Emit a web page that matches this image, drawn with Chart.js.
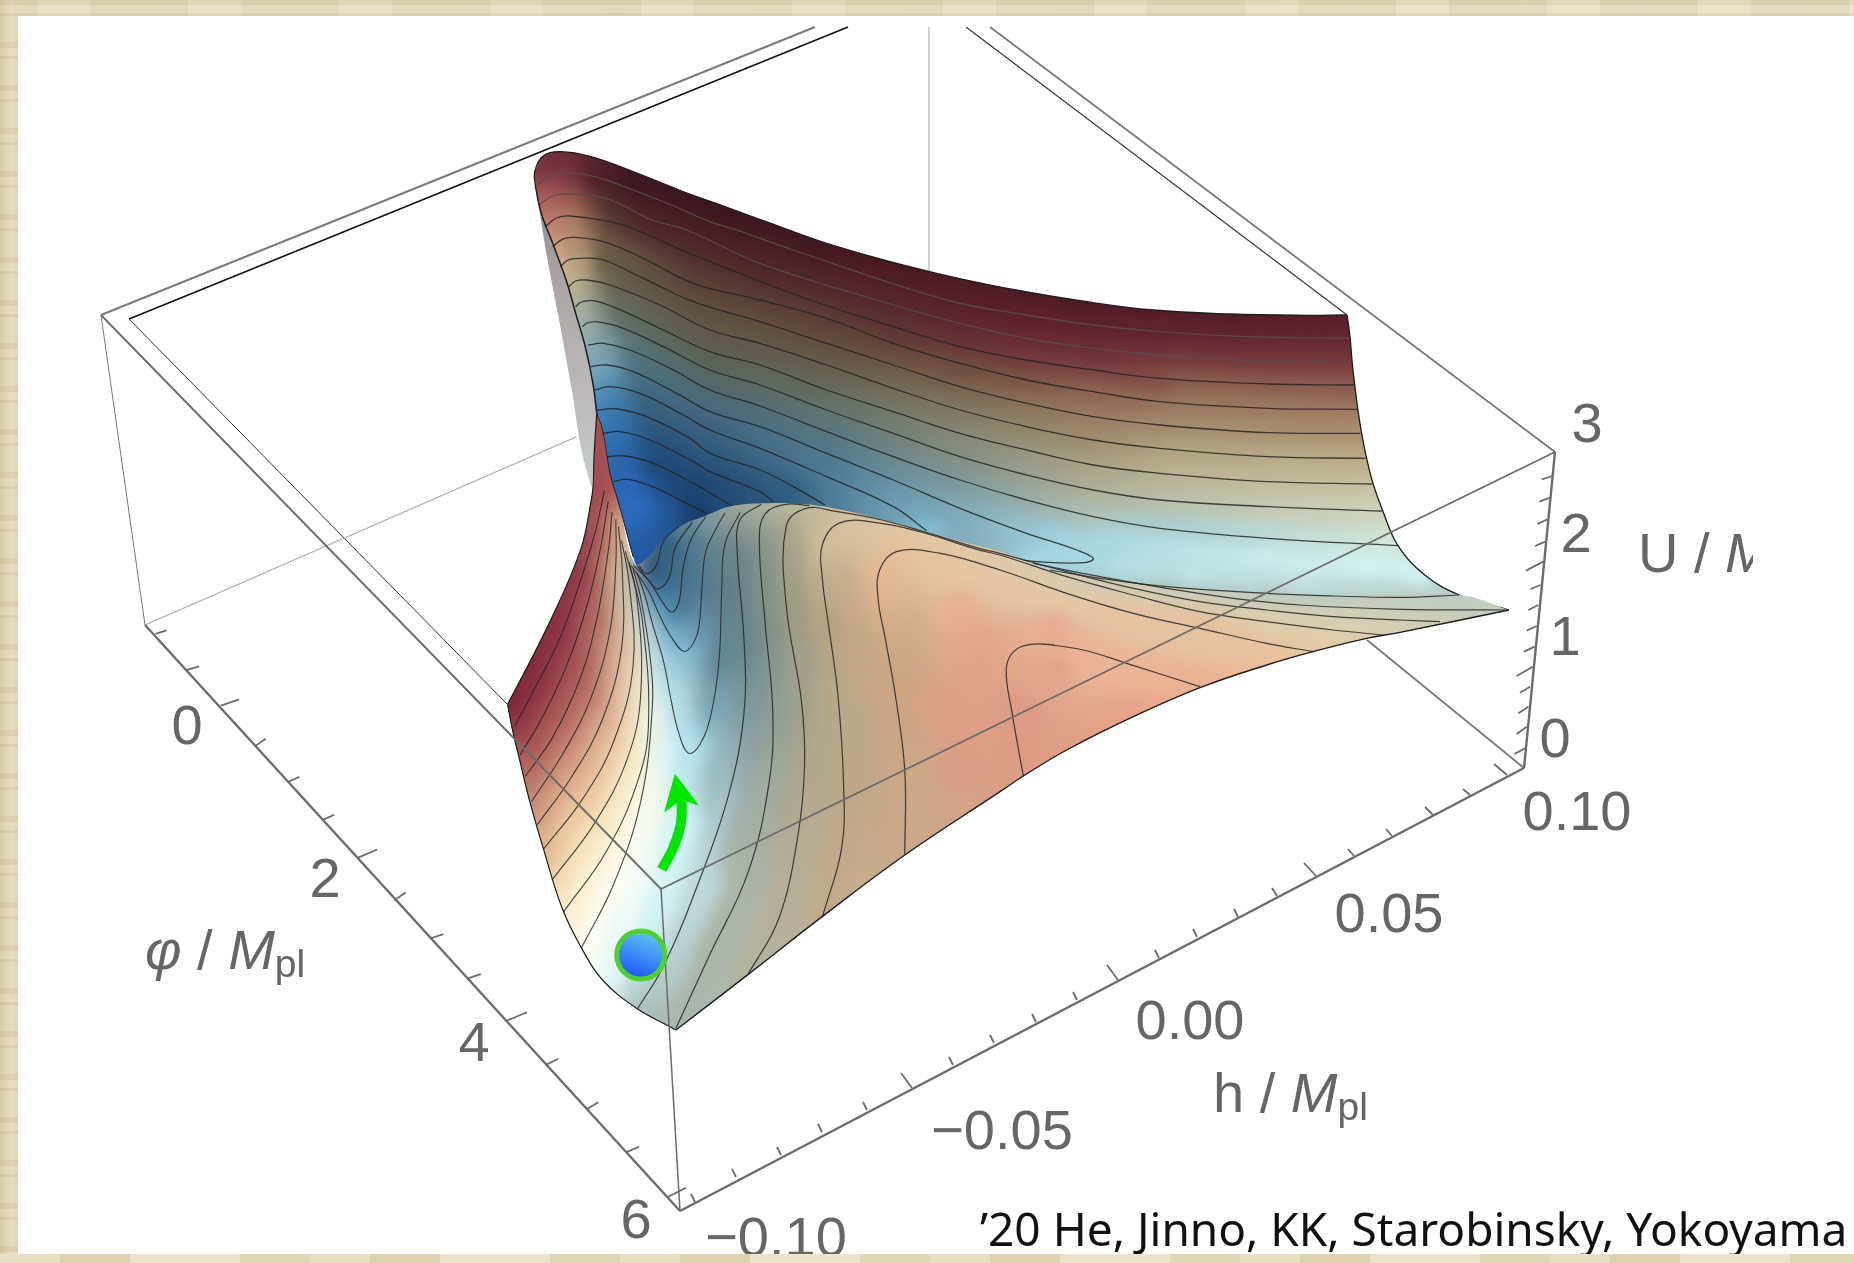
<!DOCTYPE html>
<html><head><meta charset="utf-8">
<style>
html,body{margin:0;padding:0;width:1854px;height:1263px;overflow:hidden;background:#e6dcc0}
#parch{position:absolute;inset:0;background:
 repeating-linear-gradient(0deg,rgba(170,140,80,.10) 0 3px,rgba(255,250,230,.12) 3px 11px,rgba(160,130,70,.08) 11px 17px,rgba(255,255,240,.08) 17px 43px),
 repeating-linear-gradient(90deg,rgba(170,140,80,.07) 0 37px,rgba(255,250,230,.10) 37px 90px,rgba(160,130,70,.05) 90px 151px),
 linear-gradient(90deg,#d9cba3 0,#e9dfc6 10px,#e4d9bc 18px,#e6dcc0 100%)}
#panel{position:absolute;left:18px;top:16px;width:1836px;height:1238px;background:#fff}
#c{position:absolute;left:0;top:0}
#strip{position:absolute;left:0;top:1254px;width:1854px;height:9px;background:
 repeating-linear-gradient(90deg,#e8dec2 0 60px,#dfd2b0 60px 130px,#ece3ca 130px 240px,#e2d6b8 240px 310px)}
</style></head><body>
<div id="parch"></div><div id="panel"></div>
<canvas id="c" width="1854" height="1263"></canvas>
<div id="strip"></div>
<script src="https://cdn.jsdelivr.net/npm/chart.js@4"></script>
<script>
// Readings were taken from enlarged crops of the picture; crop() turns a crop's units into chart units.
const crop=(x0,y0,sx,sy)=>pts=>pts.map(p=>[x0+p[0]/sx,y0+p[1]/sy,...p.slice(2)]);
const zA=crop(480,130,2.613,3), zB=crop(1000,280,2.613,3), zC=crop(480,480,2.613,2.8),
      zD=crop(1000,520,3,3), zE=crop(80,600,2.45,2.365), zG=crop(1400,400,3,3),
      zH=crop(760,300,3,3), zI=crop(560,230,3,3);

/* ---------- axis tick labels ---------- */
const phiTickLabels=['0','2','4','6'];
const phiTickAt=[[187,727],[325,880],[474,1044],[636,1221]];
const hTickLabels=['\u22120.10','\u22120.05','0.00','0.05','0.10'];
const hTickAt=[[776,1239],[1002,1132],[1190,1022],[1389,915],[1577,813]];
const uTickLabels=['0','1','2','3'];
const uTickAt=[[1555,740],[1565,638],[1576,535],[1587,425]];

/* ---------- box frame ---------- */
const frameOuterTop=[[101,315],[815,27]];
const frameInnerTop=[[129,319],[848,27]];
const frameInnerLeft=[[129,319],[507,704]];
const frameInnerRight=[[966,27],[1347,315]];
const frameOuterRight=[[990,27],[1555,452]];
const frameBackVertical=[[929,27],[929,271]];
const frameLeftVertical=[[101,315],[145,625]];
const floorBackLeft=[[145,625],[576,437]];
const floorBackRight=[[1524,768],[1367,640]];
const frontTopLeft=[[101,315],[661,889]];
const frontTopRight=[[661,889],[1555,452]];
const frontVertical=[[661,889],[680,1211]];
const phiAxis=[[145,625],[680,1211]];
const hAxis=[[680,1211],[1524,768]];
const uAxis=[[1524,768],[1555,452]];

/* ---------- tick marks: base and tip ---------- */
const phiTicks=zE([[185,80],[262,165],[345,250],[430,345],[510,430],[595,520],[680,610],[770,710],[860,800],[950,895],[1045,995],[1140,1100],[1240,1205],[1340,1305],[1440,1412]]);
const phiTickTips=zE([[212,72],[292,157],[390,235],[455,328],[538,418],[623,508],[728,590],[798,692],[890,790],[982,885],[1095,975],[1172,1085],[1270,1188],[1370,1293],[1485,1390]]);
const hTicks=[[695,1202],[736,1177],[781,1155],[822,1132],[867,1110],[912,1088],[953,1065],[994,1043],[1036,1022],[1077,1000],[1118,980],[1159,958],[1197,937],[1238,917],[1277,896],[1316,876],[1354,856],[1392,836],[1433,815],[1470,795],[1507,775]];
const hTickTips=[[691,1194],[732,1169],[777,1147],[818,1124],[863,1102],[901,1073],[949,1057],[990,1035],[1032,1014],[1073,992],[1107,965],[1155,950],[1193,929],[1234,909],[1272,888],[1304,863],[1348,849],[1386,829],[1425,807],[1463,789],[1494,764]];
const uTicks=zG([[375,1045],[380,980],[385,920],[390,860],[398,800],[404,740],[410,678],[415,615],[422,555],[430,485],[436,425],[443,358],[450,293],[458,228]]);
const uTickTips=zG([[343,1062],[350,1002],[355,940],[360,878],[350,828],[372,755],[380,692],[385,630],[392,567],[378,512],[405,438],[412,372],[418,305],[425,238]]);

/* ---------- surface edges ---------- */
const edgeTop=[...zA([[145,170],[143,125],[165,78],[210,65],[290,80],[400,125],[520,180],[640,230],[760,280],[880,330],[1000,372],[1130,412],[1250,445],[1400,480]]),...zB([[209,62],[400,90],[600,102],[800,106],[907,105]])];
const edgeRight=zB([[907,105],[915,175],[920,245],[927,315],[935,388],[945,460],[958,535],[975,612],[1000,692],[1040,797],[1110,885],[1200,945],[1330,990]]);
const edgeInner=zA([[145,170],[160,250],[190,340],[225,450],[250,550],[275,650],[295,760],[305,850]]);
const edgeThroat=zA([[305,850],[320,900],[340,1030],[365,1130],[400,1280]]);
const edgeStrip=[...zA([[305,850],[298,980],[295,1075]]),...zC([[290,60],[270,170],[240,260],[190,380],[130,510],[72,628]])];
const edgeFront=zC([[72,628],[85,700],[105,790],[130,900],[165,1030],[215,1200],[265,1310],[320,1400],[410,1480],[495,1530],[512,1540]]);
const edgeBottom=[...zC([[512,1540],[700,1385],[895,1222],[1110,1050]]),...zD([[0,815],[70,768],[200,690],[400,590],[600,503],[800,435],[950,392],[1100,355],[1200,337]]),...zB([[1330,990]])];
const edgeRidge=[...zB([[1200,945]]),...zD([[1000,228],[800,220],[500,198],[300,172],[150,148],[0,95]]),...zC([[1250,170],[1100,125],[950,85],[850,68],[740,65],[650,75],[590,100],[530,125],[480,165],[440,215],[405,235]])];

/* ---------- contour lines ---------- */
const backContours=[
 [...zA([[150,165],[190,132],[225,128],[300,140],[400,180],[500,225],[600,275]]),...zI([[530,0],[700,60]]),...zH([[560,0],[800,45],[1000,75],[1200,95]]),...zB([[650,170],[912,175]])],
 [...zA([[155,225],[190,198],[230,192],[330,205],[450,270]]),...zI([[380,0],[600,100]]),...zH([[350,0],[600,70],[800,115],[1000,145],[1200,165]]),...zB([[700,245],[918,245]])],
 [...zA([[170,290],[200,264],[235,258],[340,275]]),...zI([[230,0],[400,75]]),...zH([[150,0],[400,80],[600,140],[800,180],[1000,210],[1200,235]]),...zB([[700,312],[925,315]])],
 [...zA([[190,350],[215,328],[245,322]]),...zI([[130,35],[250,85],[400,160]]),...zH([[0,0],[200,55],[400,130],[600,190],[800,240],[1000,275],[1200,305]]),...zB([[700,385],[933,388]])],
 [...zA([[210,410],[230,390],[260,385]]),...zI([[130,90],[250,145],[400,215]]),...zH([[0,65],[200,130],[400,195],[600,260],[800,310],[1000,350],[1200,375]]),...zB([[700,458],[942,460]])],
 [...zA([[232,470],[250,453]]),...zI([[80,150],[150,165],[300,225],[450,300]]),...zH([[0,130],[200,195],[400,265],[600,330],[800,380],[1000,420],[1200,445]]),...zB([[700,530],[955,535]])],
 [...zA([[250,530],[265,516]]),...zI([[100,212],[170,235],[300,295],[450,365]]),...zH([[0,195],[200,270],[400,335],[600,400],[800,450],[1000,495],[1200,520]]),...zB([[700,605],[972,612]])],
 [...zA([[268,590],[280,579]]),...zI([[110,275],[190,295],[320,355],[450,420]]),...zH([[0,255],[200,330],[400,400],[600,470],[800,525],[1000,570],[1200,600]]),...zB([[700,680],[998,693]])],
 [...zA([[283,645]]),...zI([[130,340],[210,360],[340,420],[450,480]]),...zH([[0,318],[200,395],[400,470],[600,540],[800,600],[1000,650],[1200,685]]),...zB([[700,775],[1040,797]])],
 [...zA([[290,710]]),...zI([[140,405],[220,425],[350,490],[450,545]]),...zH([[0,380],[200,460],[400,540],[600,625],[800,700],[950,750],[1000,775]]),...zB([[220,848],[100,845],[0,832]])],
 [...zA([[300,780]]),...zI([[150,470],[240,490],[370,555],[450,600]]),...zH([[0,445],[200,530],[400,620],[500,692]])],
 [...zA([[305,840]]),...zI([[170,537],[260,560],[390,625],[450,670]]),...zH([[0,510],[100,560],[195,615]])],
 [...zA([[320,910]]),...zI([[180,605],[270,630],[400,695],[450,725]]),...zH([[0,575],[40,605]])],
 zI([[140,680],[195,678],[280,700],[400,760],[520,830]]),
 zI([[160,755],[205,748],[290,775],[370,815],[440,850]])
];
const fanContours=[
 zC([[90,690],[150,570],[210,440],[260,290],[300,150],[325,30]]),
 zC([[105,770],[170,650],[230,510],[280,350],[315,190],[335,60]]),
 zC([[118,830],[190,720],[260,560],[305,390],[335,200],[345,90]]),
 zC([[135,900],[220,760],[290,610],[340,420],[355,230],[355,110]]),
 zC([[150,965],[240,830],[320,670],[370,470],[372,260],[362,130]]),
 zC([[165,1035],[270,890],[350,730],[400,520],[390,290],[370,170]]),
 zC([[188,1120],[300,960],[385,780],[420,600],[410,330],[380,200]]),
 zC([[218,1210],[330,1040],[410,850],[440,690],[425,400],[390,230]]),
 zC([[265,1310],[350,1130],[420,900],[450,640],[445,500],[420,330],[400,250]])
];
const valleyContours=[
 zC([[410,260],[430,320],[450,400],[480,510],[500,620],[520,710],[545,765],[575,740],[605,650],[625,500],[632,300],[640,180],[680,90]]),
 zC([[395,240],[440,310],[470,380],[500,440],[535,480],[565,440],[575,380],[580,300],[590,200],[620,130],[640,92]]),
 zC([[400,240],[440,280],[470,330],[500,370],[520,340],[530,250],[550,170],[590,102]]),
 zC([[410,240],[440,280],[465,305],[495,270],[510,190],[555,118]]),
 zC([[415,240],[435,262],[460,240],[480,170],[520,130]])
];
const hillContours=[
 zC([[412,1480],[480,1360],[570,1130],[650,880],[690,650],[690,450],[672,200],[680,110],[735,68]]),
 zC([[512,1535],[600,1330],[700,1100],[755,850],[765,650],[745,400],[730,170],[745,95],[800,68],[860,72]]),
 [...zC([[700,1385],[780,1230],[830,1000],[848,800],[840,620],[800,350],[800,130],[850,80],[930,88],[1050,112],[1170,148],[1300,190]]),...zD([[0,100],[200,155],[400,205],[600,245],[800,270],[1000,290],[1200,300]]),...zB([[1150,1025]])],
 [...zC([[895,1222],[945,1030],[950,850],[935,600],[910,400],[895,280],[895,180],[940,120],[1040,120],[1150,145],[1300,195]]),...zD([[0,105],[200,170],[400,225],[600,275],[800,305],[1000,330],[1150,345]])],
 [...zC([[1110,1050],[1110,815],[1085,600],[1060,450],[1040,330],[1045,250],[1090,200],[1200,205]]),...zD([[0,150],[200,220],[400,280],[600,325],[800,370],[940,395]])],
 [...zC([[1420,830],[1390,650],[1375,530],[1395,480],[1440,460],[1500,462]]),...zD([[130,372],[250,390],[380,430],[600,500]])],
 [...zD([[150,150],[300,175],[500,200],[800,220],[1000,228],[1200,232]]),...zB([[1200,945]])],
 [...zD([[100,130],[300,170],[500,205],[700,235],[900,255],[1200,268]]),...zB([[1330,990]])]
];

/* ---------- surface colour read along lines running over each sheet ---------- */
const backTracks=[
 [...zA([[145,120,'#7a3040'],[210,68,'#6e2a38'],[400,128,'#3a1420'],[640,233,'#3a1520'],[880,333,'#3e1620'],[1130,415,'#46181f']]),...zB([[209,65,'#4e1a25'],[600,105,'#521a28'],[905,108,'#531c2a']])],
 [...zA([[150,165,'#a5545c'],[225,130,'#7a3340'],[300,142,'#481c26'],[400,180,'#3d1822'],[600,275,'#43191f']]),...zH([[800,45,'#5e1f2b'],[1200,95,'#5f2230']]),...zB([[650,170,'#642631'],[912,175,'#662632']])],
 [...zA([[155,225,'#bb6a66'],[230,192,'#9a5a50'],[330,205,'#4f2a28'],[450,270,'#4a2026']]),...zI([[600,100,'#4e2428']]),...zH([[600,70,'#5e2530'],[1000,145,'#6a2c34']]),...zB([[450,225,'#74343a'],[918,245,'#78383d']])],
 [...zA([[170,290,'#d08c78'],[235,258,'#b07c64'],[340,275,'#55382f']]),...zI([[400,75,'#52302c']]),...zH([[400,80,'#5c3030'],[800,180,'#73393a'],[1200,235,'#844a47']]),...zB([[450,290,'#8a5c4c'],[925,315,'#8c5a50']])],
 [...zA([[190,350,'#d8aa88'],[245,322,'#b89070']]),...zI([[130,35,'#6a5a46'],[400,160,'#5a4034']]),...zH([[200,55,'#5c3f33'],[600,190,'#6e4a3c'],[1000,275,'#8e6553']]),...zB([[450,365,'#9a785e'],[933,388,'#a07c60']])],
 [...zA([[210,410,'#d8bc92'],[260,385,'#b8a080']]),...zI([[130,90,'#665a46'],[400,215,'#5e4e3c']]),...zH([[200,130,'#624e3e'],[600,260,'#7a6350'],[1000,350,'#9a7d62']]),...zB([[450,435,'#a38d6c'],[942,460,'#ac9270']])],
 [...zA([[232,470,'#ccc09a'],[250,453,'#b8b090']]),...zI([[150,165,'#66624f'],[450,300,'#625646']]),...zH([[200,195,'#685e4c'],[600,330,'#827a64'],[1000,420,'#a28f6e']]),...zB([[450,505,'#b2a682'],[955,535,'#bcac86']])],
 [...zA([[250,530,'#b8c0a6'],[265,516,'#a0aa98']]),...zI([[170,235,'#5f6a5c'],[450,365,'#5e5f50']]),...zH([[200,270,'#646b5c'],[600,400,'#878a76'],[1000,495,'#aba488']]),...zB([[450,580,'#bcb494'],[972,612,'#c8c0a0']])],
 [...zA([[268,590,'#a6b8ac'],[280,579,'#96a8a6']]),...zI([[190,295,'#58706c'],[450,420,'#58675e']]),...zH([[200,330,'#5f7570'],[600,470,'#858f85'],[1000,570,'#b1b198']]),...zB([[450,650,'#bcc0a8'],[998,693,'#d0d4bc']])],
 [...zA([[283,645,'#90b0b4']]),...zI([[130,340,'#80a4ac'],[210,360,'#52727a'],[450,480,'#506870']]),...zH([[200,395,'#587680'],[600,540,'#7f9a9c'],[1000,650,'#aec3b8']]),...zB([[450,745,'#a8ccd0'],[1040,797,'#d4e8dc']])],
 [...zA([[290,710,'#7fb0c6']]),...zI([[140,405,'#70a2b8'],[220,425,'#466f80'],[450,545,'#446a80']]),...zH([[200,460,'#4f7a90'],[600,625,'#7facbc'],[900,720,'#a2d4e2'],[1000,775,'#a8dce8']]),...zB([[100,845,'#a8dce8']])],
 [...zA([[300,780,'#5798c4']]),...zI([[150,470,'#4c8cb8'],[240,490,'#3a647a'],[450,600,'#385f7e']]),...zH([[200,530,'#4c7c98'],[400,620,'#6e9fb5'],[500,690,'#84c2d8']])],
 [...zA([[305,840,'#3f80ba']]),...zI([[170,537,'#3a78b0'],[260,560,'#2f5a7c'],[450,670,'#2d587c']]),...zH([[100,560,'#2f5f84'],[195,615,'#4a7c98']])],
 [...zA([[320,910,'#3374b6']]),...zI([[180,605,'#3070b0'],[270,630,'#234c78'],[450,725,'#234c78']]),...zH([[40,605,'#2a5478']])],
 zI([[140,680,'#2d6cb0'],[195,678,'#2a68ac'],[280,700,'#1c4470'],[400,760,'#1c4470'],[520,830,'#1f4c78']]),
 zI([[160,755,'#2b68ba'],[205,748,'#2a68ba'],[290,775,'#1e4e88'],[370,815,'#183e6c'],[440,850,'#173f6d']]),
 zI([[170,830,'#2a6ac0'],[250,810,'#2b6ec6'],[330,830,'#24589c'],[400,850,'#173a66']]),
 zA([[400,1280,'#1f5ca8'],[430,1350,'#1c4a80']]),
 zB([[250,760,'#a2dae6'],[450,790,'#bce6ec'],[700,830,'#ccf0f0'],[950,850,'#d2f6f6'],[1090,880,'#d4f8f8']]),
 zB([[300,860,'#bce8ee'],[500,885,'#c2eaee'],[800,915,'#c6e8e8'],[1000,930,'#bcd8d4'],[1180,945,'#b8ccc6']]),
 zD([[150,140,'#a0c8d0'],[300,165,'#a6ccd2'],[500,190,'#a8c4c2'],[800,210,'#b0c4be'],[1200,225,'#b8cac4']])
];
const frontTracks=[
 [...zA([[305,850,'#a85050'],[295,1075,'#a04a54']]),...zC([[290,60,'#9a4450'],[270,170,'#8f3646'],[240,260,'#8a3040'],[190,380,'#842c3c'],[130,510,'#7e2838'],[72,628,'#7a2436']])],
 zC([[72,628,'#7a2436'],[85,700,'#96424a'],[105,790,'#b06a60'],[130,900,'#c08a74'],[165,1030,'#dfb08a'],[215,1200,'#f8ecc4'],[265,1310,'#fffdf0'],[320,1400,'#eefcfc'],[410,1480,'#a9c0be'],[495,1530,'#a9b5ac'],[512,1540,'#a9b5ac']]),
 /* fan of contours left of the valley */
 zC([[90,690,'#8a3040'],[150,570,'#8c3040'],[210,440,'#8e3242'],[260,290,'#943a4a'],[300,150,'#a04a54'],[325,30,'#a84e54']]),
 zC([[105,770,'#a04a50'],[170,650,'#a24c50'],[230,510,'#a04a52'],[280,350,'#a85658'],[315,190,'#b06058'],[335,60,'#b86a5c']]),
 zC([[118,830,'#b86a60'],[190,720,'#b46660'],[260,560,'#ac5a58'],[305,390,'#b06a60'],[335,200,'#c08a70'],[345,90,'#c89a78']]),
 zC([[135,900,'#cc8e78'],[220,760,'#c88c78'],[290,610,'#bf7d6c'],[340,420,'#c89a80'],[355,230,'#d8b890'],[355,110,'#d8b890']]),
 zC([[150,965,'#e0ac8c'],[240,830,'#deaa8a'],[320,670,'#d8a888'],[370,470,'#dcb898'],[372,260,'#e8d0a8'],[362,130,'#e8d0a8']]),
 zC([[165,1035,'#f0c8a0'],[270,890,'#f0c8a0'],[350,730,'#ecc8a0'],[400,520,'#eed4b0'],[390,290,'#f0e0b8'],[370,170,'#e8dcc0']]),
 zC([[188,1120,'#f8e4b8'],[300,960,'#f8e4b8'],[385,780,'#f4e4bc'],[420,600,'#f4e8c8'],[410,330,'#f4ecc8'],[380,200,'#d8d8c0']]),
 zC([[218,1210,'#fff4d8'],[330,1040,'#fff4d8'],[410,850,'#fbf2cf'],[440,690,'#f8f6dc'],[425,400,'#e8ecd8'],[390,230,'#a0b8c0']]),
 zC([[265,1310,'#ffffff'],[350,1130,'#fffef4'],[420,900,'#fdfbe8'],[450,640,'#e8f6f2'],[445,500,'#c8e8ec'],[420,330,'#6aa4c4'],[400,250,'#204a7c']]),
 /* valley */
 zC([[430,400,'#a8d4e0'],[470,600,'#c4ecf2'],[480,750,'#e0f8fa'],[430,900,'#f4fdfc'],[400,1100,'#f6fdfa'],[370,1300,'#e8fbfb'],[350,1400,'#d8f4f6']]),
 zC([[520,790,'#b6e8f4'],[530,950,'#cff6fa'],[470,1180,'#d4f4f6'],[430,1320,'#c8eef0'],[400,1430,'#b0ccc8']]),
 zC([[430,320,'#3a80b0'],[480,510,'#8cc8e0'],[520,710,'#b0e4f2'],[545,765,'#b8e8f4'],[575,740,'#a8dcea'],[605,650,'#78a8b8'],[625,500,'#5e8494'],[632,300,'#5f7d88'],[640,180,'#6a8488'],[680,90,'#9aa59c']]),
 zC([[440,310,'#3a80b0'],[500,440,'#70b0d0'],[535,480,'#84bcd4'],[565,440,'#6a9cb4'],[580,300,'#507a90'],[590,200,'#5e8092'],[640,92,'#8a9c98']]),
 zC([[440,280,'#28649a'],[470,330,'#4a90b8'],[500,370,'#4480a8'],[520,340,'#46748e'],[530,250,'#42708a'],[550,170,'#4e7a90'],[590,102,'#7e9aa0']]),
 zC([[440,280,'#245a88'],[465,305,'#245a88'],[495,270,'#346688'],[510,190,'#3e6a86'],[555,118,'#6a8a96']]),
 zC([[415,240,'#1c4070'],[435,262,'#1c4070'],[460,240,'#205078'],[480,170,'#2a5a80'],[520,130,'#5a8090']]),
 /* hill contours */
 zC([[412,1480,'#a9bfbd'],[480,1360,'#b4cccc'],[570,1130,'#bfdadc'],[650,880,'#a4c2c8'],[690,650,'#7c9aa4'],[690,450,'#66828a'],[672,200,'#6a8488'],[680,110,'#8e9c96'],[735,68,'#a8aea0']]),
 zC([[512,1535,'#a9b5ac'],[600,1330,'#aab4a8'],[700,1100,'#aab2a6'],[755,850,'#a0aca0'],[765,650,'#8a9c96'],[745,400,'#7d9088'],[730,170,'#84948a'],[745,95,'#a4aa9a'],[800,68,'#b8b8a0']]),
 [...zC([[700,1385,'#b2b29c'],[780,1230,'#b6b09a'],[830,1000,'#b6ae96'],[848,800,'#b0a68e'],[840,620,'#a4a28c'],[800,350,'#9e9c84'],[800,130,'#a8a488'],[850,80,'#bcb89c'],[930,88,'#c8bc9c'],[1170,148,'#dcc4a0']]),...zD([[200,155,'#ccccb4'],[400,205,'#d0ccae'],[800,270,'#d8ceb0'],[1200,300,'#d6ceb2']])],
 [...zC([[895,1222,'#c2ac8c'],[945,1030,'#c2a988'],[950,850,'#bea584'],[935,600,'#b8a888'],[910,400,'#b4a484'],[895,280,'#c0ad8a'],[895,180,'#d0bb96'],[940,120,'#dcc2a0'],[1040,120,'#e0c6a2'],[1150,145,'#e4caa6']]),...zD([[200,170,'#e0cba6'],[400,225,'#e0cca8'],[800,305,'#e0cfac'],[1150,345,'#dccfb0']])],
 [...zC([[1110,1050,'#c9aa88'],[1110,815,'#cda786'],[1085,600,'#cca484'],[1060,450,'#d0a884'],[1040,330,'#deb28e'],[1045,250,'#e4ba94'],[1090,200,'#e6be98'],[1200,205,'#eac4a0']]),...zD([[200,220,'#e8c8a4'],[600,325,'#e8c8a4'],[940,395,'#e4c8a4']])],
 [...zC([[1420,830,'#e09c84'],[1390,650,'#dc9a84'],[1375,530,'#e0a48a'],[1395,480,'#e4aa8c'],[1440,460,'#e8ae90']]),...zD([[250,390,'#ecb496'],[600,500,'#ecb494']])],
 [...zC([[1110,1050,'#c9aa88'],[1420,830,'#de9c84']]),...zD([[200,690,'#e09e86'],[400,590,'#e8a48a'],[600,503,'#ecb092'],[800,435,'#ecc09a'],[1100,355,'#e4cca4']]),...zB([[1330,990,'#c0cdc0']])],
 /* ridge */
 [...zB([[1200,945,'#bccdc4']]),...zD([[1000,232,'#bbccc4'],[800,224,'#b8cdc6'],[500,202,'#bcd0c8'],[300,176,'#c4ccbc'],[150,152,'#d2c8b0'],[0,100,'#dcc8a8']]),...zC([[1250,175,'#e2c8a6'],[1100,130,'#e4c6a0'],[950,90,'#d4c09c'],[850,72,'#c0b89c'],[740,70,'#b0b49e'],[650,80,'#9aa59c'],[590,105,'#7e9aa0'],[530,130,'#5a8090'],[480,170,'#2a5a80'],[440,220,'#1c4070']])],
 zD([[300,250,'#e8bc96'],[600,300,'#ecb694'],[850,395,'#ecbe98']]),
 zD([[1000,240,'#c2cebe'],[1200,250,'#c4cebe']]),
 zD([[1000,270,'#d2d0b4'],[1250,280,'#ccd0bc']]),
 /* filling the open spaces between those contours */
 zC([[1150,620,'#d8a283'],[1300,650,'#df9f86'],[1400,680,'#e39c85']]),
 zC([[1250,350,'#e8b092'],[1300,500,'#e0a286'],[1250,800,'#dc9c85']]),
 zC([[1500,400,'#e8a890'],[1500,520,'#e2a088']]),
 zC([[1000,600,'#c4a984'],[980,450,'#c4a684'],[950,300,'#c8ad8a']]),
 zC([[1000,900,'#c2a988'],[1000,1100,'#c6ac8c']]),
 zC([[900,600,'#b5a888'],[900,900,'#b5aa8e']]),
 zC([[800,600,'#97a08f'],[800,1050,'#b3ac92']]),
 zC([[720,600,'#7f9492'],[650,1050,'#a6b2a8']]),
 zC([[620,600,'#7aa0ae'],[600,900,'#a4c4c8']])
];
const sideTracks=[zA([[170,250,'#9a9292'],[210,500,'#aea8a8'],[260,800,'#bcbaba'],[285,1000,'#c4cac8']])];

/* ---------- sheet shapes ---------- */
const corner=p=>[p,p];
const backShape=[...edgeTop.slice(1,-1),...corner(edgeRight[0]),...edgeRight.slice(1),...corner(edgeRight[edgeRight.length-1]),...zD([[1000,300],[600,300]]),...zC([[700,250],[420,270]]),...corner(zC([[420,270]])[0]),...edgeThroat.slice().reverse(),...edgeInner.slice().reverse()];
const sideShape=[...zA([[145,170],[155,240],[175,380],[205,560],[240,780],[265,960],[292,1075]]),...corner(zA([[292,1075]])[0]),...zA([[300,940]]),...edgeInner.slice(2).reverse()];
const frontShape=[...edgeStrip.slice(0,-1),...corner(edgeStrip[edgeStrip.length-1]),...edgeFront.slice(1,-1),...corner(edgeBottom[0]),...edgeBottom.slice(1,-1),...corner(edgeBottom[edgeBottom.length-1]),...edgeRidge,...edgeThroat.slice(1,-1).reverse()];

/* ---------- marble and arrow ---------- */
const marble=zC([[420,1330]]);
const arrowShaft=zC([[475,1090],[505,1030],[525,960],[527,895]]);
const arrowHead=zC([[510,825],[570,910],[527,893],[483,928],[510,825]]);

const GREY='#6b6b6b', INK='#1c1c1c', CONTOUR='rgba(38,38,38,.85)', CONTOUR_LIGHT='rgba(88,78,78,.9)';
const xy=a=>a.map(p=>({x:p[0],y:p[1]}));
const segs=(a,b)=>a.flatMap((p,i)=>[{x:p[0],y:p[1]},{x:b[i][0],y:b[i][1]},{x:NaN,y:NaN}]);
const line=(label,pts,color,width,tension=0)=>({label,data:xy(pts),borderColor:color,borderWidth:width,tension,showLine:true,pointRadius:0,clip:false,spanGaps:false});
const sheet=(label,shape,tracks)=>({label,data:xy(shape),colourTracks:tracks,borderWidth:0,borderColor:'transparent',tension:.4,showLine:true,pointRadius:0,clip:false});

const sets=[
 line('frame outer top',frameOuterTop,'#7a7a7a',2),
 line('frame inner top',frameInnerTop,'#111',1.6),
 line('frame inner left',frameInnerLeft,'#333',1),
 line('frame inner right',frameInnerRight,'#333',1.1),
 line('frame outer right',frameOuterRight,'#777',1.7),
 line('frame back vertical',frameBackVertical,'#bbb',1.4),
 line('frame left vertical',frameLeftVertical,'#777',1),
 line('floor back left',floorBackLeft,'#aaa',1.2),
 line('floor back right',floorBackRight,'#777',1.7),
 sheet('side of surface',sideShape,sideTracks),
 sheet('back of surface',backShape,backTracks),
 ...backContours.map((c,i)=>line('contour back '+i,c,i<2?CONTOUR_LIGHT:CONTOUR,1.3,.4)),
 line('edge top',edgeTop,INK,1.3,.4),
 line('edge right',edgeRight,INK,1.3,.4),
 line('edge inner',edgeInner,INK,1.5,.4),
 sheet('front of surface',frontShape,frontTracks),
 ...fanContours.map((c,i)=>line('contour fan '+i,c,CONTOUR,1.1,.4)),
 ...valleyContours.map((c,i)=>line('contour valley '+i,c,CONTOUR,1.1,.4)),
 ...hillContours.map((c,i)=>line('contour hill '+i,c,CONTOUR,1.2,.4)),
 line('edge throat',edgeThroat,INK,1,.4),
 line('edge strip',edgeStrip,INK,1.2,.4),
 line('edge front',edgeFront,INK,1.2,.4),
 line('edge bottom',edgeBottom,INK,1.4,.4),
 line('front top left',frontTopLeft,GREY,1.8),
 line('front top right',frontTopRight,GREY,1.8),
 line('front vertical',frontVertical,GREY,1.5),
 line('phi axis',phiAxis,GREY,2.4),
 line('h axis',hAxis,GREY,2.4),
 line('U axis',uAxis,GREY,2.4),
 {label:'phi ticks',data:segs(phiTicks,phiTickTips),borderColor:GREY,borderWidth:1.8,showLine:true,pointRadius:0,clip:false},
 {label:'h ticks',data:segs(hTicks,hTickTips),borderColor:GREY,borderWidth:1.8,showLine:true,pointRadius:0,clip:false},
 {label:'U ticks',data:segs(uTicks,uTickTips),borderColor:GREY,borderWidth:1.8,showLine:true,pointRadius:0,clip:false},
 line('arrow shaft',arrowShaft,'#00e600',10,.4),
 {label:'arrow head',data:xy(arrowHead),showLine:true,fill:'shape',backgroundColor:'#00e600',borderColor:'#00e600',borderWidth:1,pointRadius:0,clip:false},
 {label:'marble',isMarble:true,data:xy(marble),showLine:false,pointRadius:24,pointBorderWidth:5,pointBorderColor:'#4fd030',pointBackgroundColor:'#3a8cf5',clip:false}
];
sets.forEach((d,i)=>{d.order=sets.length-i;});

const hexRGB=h=>[parseInt(h.slice(1,3),16),parseInt(h.slice(3,5),16),parseInt(h.slice(5,7),16)];

/* shades a sheet between its colour tracks, inside the sheet's own line path */
const sheetField={id:'sheetField',beforeDatasetDraw(chart,args){
  const ds=chart.data.datasets[args.index];
  if(ds.isMarble){const e=args.meta.data[0],g=chart.ctx.createLinearGradient(e.x+10,e.y-24,e.x-8,e.y+24);
    g.addColorStop(0,'#62c8ee');g.addColorStop(1,'#1a55ff');e.options={...e.options,backgroundColor:g,radius:24,borderWidth:5,borderColor:'#4fd030',pointStyle:'circle',rotation:0};return;}
  if(!ds.colourTracks) return;
  const meta=args.meta,{x:sx,y:sy}=chart.scales,step=4,pts=[];
  for(const t of ds.colourTracks){
    const q=t.map(p=>({x:sx.getPixelForValue(p[0]),y:sy.getPixelForValue(p[1]),c:hexRGB(p[2])}));
    if(q.length===1)pts.push(q[0]);
    for(let i=0;i+1<q.length;i++){const a=q[i],b=q[i+1],n=Math.max(1,Math.round(Math.hypot(b.x-a.x,b.y-a.y)/18));
      for(let k=0;k<=n;k++){const f=k/n;pts.push({x:a.x+(b.x-a.x)*f,y:a.y+(b.y-a.y)*f,c:[0,1,2].map(m=>a.c[m]+(b.c[m]-a.c[m])*f)});}}
  }
  let x0=1e9,x1=-1e9,y0=1e9,y1=-1e9;
  for(const e of meta.data){if(e.x<x0)x0=e.x;if(e.x>x1)x1=e.x;if(e.y<y0)y0=e.y;if(e.y>y1)y1=e.y;}
  x0-=24;y0-=24;x1+=24;y1+=24;
  const w=Math.ceil((x1-x0)/step)+1,h=Math.ceil((y1-y0)/step)+1;
  const off=document.createElement('canvas');off.width=w;off.height=h;
  const oc=off.getContext('2d'),img=oc.createImageData(w,h),d=img.data;
  for(let j=0,k=0;j<h;j++)for(let i=0;i<w;i++,k+=4){
    const px=x0+i*step,py=y0+j*step;let W=0,r=0,g=0,b=0;
    for(const s of pts){const dx=px-s.x,dy=py-s.y,q=dx*dx+dy*dy+120,wt=1/(q*q);W+=wt;r+=wt*s.c[0];g+=wt*s.c[1];b+=wt*s.c[2];}
    d[k]=r/W;d[k+1]=g/W;d[k+2]=b/W;d[k+3]=255;}
  oc.putImageData(img,0,0);
  const ctx=chart.ctx;ctx.save();ctx.beginPath();meta.dataset.path(ctx);ctx.closePath();ctx.clip();
  ctx.imageSmoothingEnabled=true;ctx.imageSmoothingQuality='high';ctx.filter='blur(5px)';
  ctx.drawImage(off,x0,y0,w*step,h*step);ctx.restore();
}};

const SANS='"Liberation Sans",Arial,sans-serif';
const textPlugin={id:'axisText',afterDatasetsDraw(chart){
  const ctx=chart.ctx,{x:sx,y:sy}=chart.scales,P=(p)=>[sx.getPixelForValue(p[0]),sy.getPixelForValue(p[1])];
  ctx.save();ctx.beginPath();ctx.rect(0,0,sx.getPixelForValue(1753),sy.getPixelForValue(1263));ctx.clip();
  ctx.fillStyle='#666';ctx.textAlign='center';ctx.textBaseline='middle';ctx.font='56px '+SANS;
  const put=(labels,at)=>labels.forEach((t,i)=>{const q=P(at[i]);ctx.fillText(t,q[0],q[1]+2);});
  put(phiTickLabels,phiTickAt);put(hTickLabels,hTickAt);put(uTickLabels,uTickAt);
  ctx.textAlign='left';ctx.textBaseline='alphabetic';
  const runs=(start,list)=>{let q=P(start),x=q[0];for(const r of list){ctx.font=r[1]+SANS;ctx.fillText(r[0],x,q[1]+(r[2]||0));x+=ctx.measureText(r[0]).width;}};
  runs([145,969],[['\u03c6',"italic 56px "],[' / ',"56px "],['M',"italic 56px "],['pl',"39px ",8]]);
  runs([1213,1112],[['h / ',"56px "],['M',"italic 56px "],['pl',"39px ",8]]);
  runs([1638,572],[['U / ',"56px "],['M',"italic 56px "],['pl',"39px ",8]]);
  ctx.restore();
  ctx.save();ctx.fillStyle='#111';ctx.font='46px "Noto Sans",sans-serif';ctx.textAlign='left';ctx.textBaseline='alphabetic';
  const q=P([980,1246]);ctx.fillText('\u201920 He, Jinno, KK, Starobinsky, Yokoyama',q[0],q[1]);ctx.restore();
}};

new Chart(document.getElementById('c'),{type:'scatter',data:{datasets:sets},plugins:[sheetField,textPlugin],options:{
  responsive:false,animation:false,devicePixelRatio:1,events:[],layout:{padding:0,autoPadding:false},
  plugins:{legend:{display:false},tooltip:{enabled:false},title:{display:false}},
  scales:{x:{type:'linear',min:0,max:1854,display:false},y:{type:'linear',min:0,max:1263,reverse:true,display:false}}
}});
</script></body></html>
